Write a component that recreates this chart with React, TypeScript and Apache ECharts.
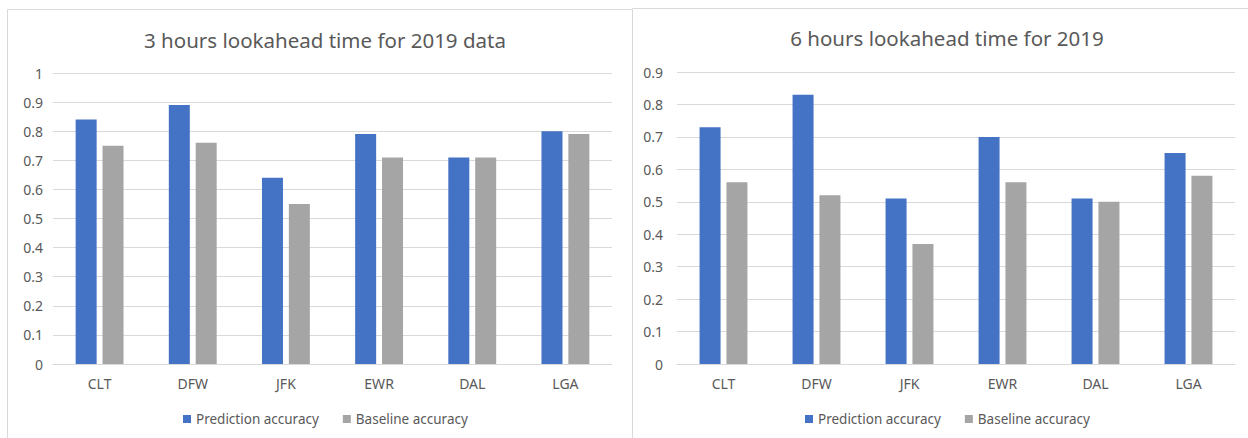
import React, { useEffect, useRef } from "react";
import * as echarts from "echarts";

const categories = ["CLT", "DFW", "JFK", "EWR", "DAL", "LGA"];
const prediction3h = [0.84, 0.89, 0.64, 0.79, 0.71, 0.8];
const baseline3h = [0.75, 0.76, 0.55, 0.71, 0.71, 0.79];
const prediction6h = [0.73, 0.83, 0.51, 0.7, 0.51, 0.65];
const baseline6h = [0.56, 0.52, 0.37, 0.56, 0.5, 0.58];
const seriesNames = ["Prediction accuracy", "Baseline accuracy"];
const titles = ["3 hours lookahead time for 2019 data", "6 hours lookahead time for 2019"];

const FONT = "'Noto Sans', sans-serif";
const TEXT = "#595959";
const GRID = "#d9d9d9";
const BLUE = "#4472C4";
const GRAY = "#A5A5A5";

export default function App() {
  const ref = useRef<HTMLDivElement>(null);
  useEffect(() => {
    document.body.style.margin = "0";
    const chart = echarts.init(ref.current!, null, { renderer: "svg" });
    const yAxisBase = (max: number, margin: number) => ({
      type: "value",
      min: 0,
      max,
      interval: 0.1,
      axisLine: { show: false },
      axisTick: { show: false },
      axisLabel: { color: TEXT, fontSize: 14, fontFamily: FONT, margin },
      splitLine: { lineStyle: { color: GRID, width: 1 } },
    });
    const xAxisBase = (gridIndex: number) => ({
      type: "category",
      gridIndex,
      data: categories,
      axisLine: { lineStyle: { color: GRID, width: 1 } },
      axisTick: { show: false },
      axisLabel: { color: TEXT, fontSize: 14, fontFamily: FONT, margin: 12 },
    });
    const bar = (name: string, data: number[], color: string, idx: number) => ({
      type: "bar",
      name,
      data,
      xAxisIndex: idx,
      yAxisIndex: idx,
      barWidth: 21,
      barGap: "28%",
      itemStyle: { color },
    });
    const legendBase = (left: number) => ({
      data: seriesNames,
      left,
      top: 412,
      padding: 0,
      itemWidth: 8,
      itemHeight: 8,
      itemGap: 24,
      icon: "rect",
      textStyle: { color: TEXT, fontSize: 13.5, fontFamily: FONT },
    });
    chart.setOption({
      animation: false,
      backgroundColor: "#fff",
      graphic: [
        {
          type: "rect",
          z: -10,
          silent: true,
          shape: { x: 7.5, y: 9.5, width: 800, height: 600 },
          style: { fill: "#fff", stroke: GRID, lineWidth: 1 },
        },
        {
          type: "rect",
          z: -9,
          silent: true,
          shape: { x: 632.5, y: 8.5, width: 800, height: 600 },
          style: { fill: "#fff", stroke: GRID, lineWidth: 1 },
        },
      ],
      title: [
        {
          text: titles[0],
          left: 320,
          top: 24,
          textAlign: "center",
          textStyle: { color: TEXT, fontSize: 20.5, fontWeight: "normal", fontFamily: FONT },
        },
        {
          text: titles[1],
          left: 942,
          top: 22,
          textAlign: "center",
          textStyle: { color: TEXT, fontSize: 20.5, fontWeight: "normal", fontFamily: FONT },
        },
      ],
      legend: [legendBase(183), legendBase(805)],
      grid: [
        { left: 53, right: 636, top: 73, bottom: 74 },
        { left: 677, right: 13, top: 72, bottom: 74 },
      ],
      xAxis: [xAxisBase(0), xAxisBase(1)],
      yAxis: [
        { ...yAxisBase(1, 10), gridIndex: 0 },
        { ...yAxisBase(0.9, 14), gridIndex: 1 },
      ],
      series: [
        bar(seriesNames[0], prediction3h, BLUE, 0),
        bar(seriesNames[1], baseline3h, GRAY, 0),
        bar(seriesNames[0], prediction6h, BLUE, 1),
        bar(seriesNames[1], baseline6h, GRAY, 1),
      ],
    });
    return () => chart.dispose();
  }, []);
  return <div ref={ref} style={{ width: 1248, height: 438 }} />;
}
